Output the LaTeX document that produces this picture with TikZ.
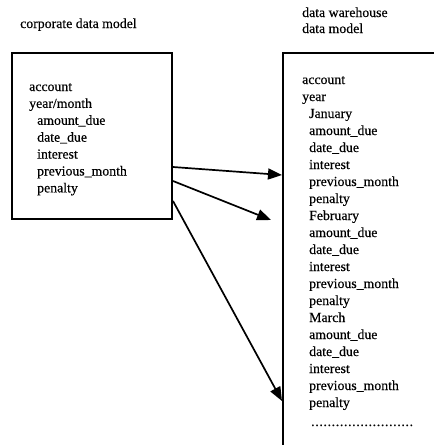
\documentclass[tikz,border=0pt]{standalone}
\usepackage{fontspec}
\setmainfont[FakeBold=0.35]{Liberation Serif}
\usetikzlibrary{arrows.meta,calc}

\tikzset{
  modelbox/.style={draw=black, line width=2pt, rectangle, inner sep=0pt, fill=none},
  lbl/.style={inner sep=0pt, anchor=base west, font=\fontsize{13.8}{17}\selectfont},
  flow/.style={line width=1.7pt, -{Triangle[length=14pt,width=11pt]}},
}

\begin{document}
\begin{tikzpicture}[x=1pt, y=-1pt]
  \useasboundingbox (0,0) rectangle (434,445);
  \fill[white] (0,0) rectangle (434,445);

  % titles
  \node[lbl] (t1) at (20,28) {corporate data model};
  \node[lbl] (t2) at (302,17) {data warehouse};
  \node[lbl] (t3) at (302,33) {data model};

  % the two model boxes (the warehouse box runs past the page edges)
  \node[modelbox, minimum width=160pt, minimum height=166pt] (corp) at (92,136) {};
  \node[modelbox, minimum width=320pt, minimum height=560pt] (dw) at (443,333) {};

  % corporate data model fields
  \foreach \x/\t [count=\i from 0] in {29/account, 29/{year/month}, 37/amount\_due,
      37/date\_due, 37/interest, 37/previous\_month, 37/penalty}
    \node[lbl] (c\i) at (\x, 91+16.9*\i) {\t};

  % data warehouse fields
  \foreach \x/\t [count=\i from 0] in {302/account, 302/year,
      309/January, 309/amount\_due, 309/date\_due, 309/interest, 309/previous\_month, 309/penalty,
      309/February, 309/amount\_due, 309/date\_due, 309/interest, 309/previous\_month, 309/penalty,
      309/March, 309/amount\_due, 309/date\_due, 309/interest, 309/previous\_month, 309/penalty}
    \node[lbl] (w\i) at (\x, 84+17*\i) {\t};

  \node[lbl] (more) at (311,426) {\foreach \k in {1,...,25}{.\kern0.65pt}};

  % mapping arrows
  \coordinate (feb) at (271,220);
  \draw[flow] ($(corp.north east)+(0,115)$) -- ($(dw.north west)+(0,123)$);
  \draw[flow] ($(corp.north east)+(0,129)$) -- (feb);
  \draw[flow] ($(corp.north east)+(0,149)$) -- ($(dw.north west)+(0,349)$);
\end{tikzpicture}
\end{document}
